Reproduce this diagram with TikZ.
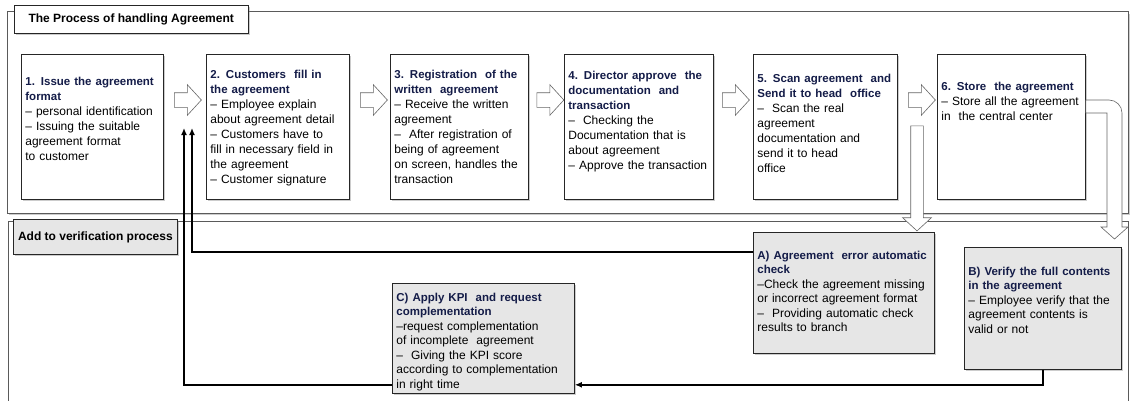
\documentclass[tikz,border=0pt]{standalone}
\usepackage{fontspec}
\setmainfont{Liberation Sans}
\usetikzlibrary{shapes.arrows,shadows,arrows.meta}
\definecolor{headblue}{RGB}{20,28,72}
\definecolor{boxgray}{RGB}{230,230,230}
\definecolor{framegray}{RGB}{90,90,90}
\newcommand{\hd}{\fontsize{11.5}{15}\bfseries\color{headblue}}

\tikzset{
  panel/.style={draw=framegray, fill=white, line width=1pt},
  stepbox/.style={draw=black!85, fill=white, anchor=north west, align=left,
    inner xsep=4pt, inner ysep=0pt, line width=0.8pt,
    font=\fontsize{12}{15}\selectfont,
    drop shadow={shadow xshift=2pt, shadow yshift=-2pt, opacity=0.4}},
  checkbox/.style={stepbox, fill=boxgray, font=\fontsize{12}{14.5}\selectfont},
  titlebox/.style={draw=black!85, fill=white, anchor=north west, inner sep=0pt,
    font=\fontsize{12}{14}\selectfont\bfseries,
    drop shadow={shadow xshift=2pt, shadow yshift=-2pt, opacity=0.4}},
  nextarr/.style={single arrow, draw=black!60, fill=white, line width=0.6pt,
    minimum height=27pt, single arrow head extend=8pt,
    single arrow tip angle=95, inner xsep=0pt, inner ysep=7pt},
  downarr/.style={nextarr, rotate=-90, minimum height=105pt, inner ysep=6pt},
  backline/.style={line width=1.6pt, -{Latex[length=7pt,width=6pt]}},
}

\begin{document}
\begin{tikzpicture}[x=1pt,y=1pt]
\useasboundingbox (0,0) rectangle (1132,400);

% the two frames
\draw[panel, drop shadow={shadow xshift=2pt, shadow yshift=-2pt, opacity=0.4}] (7,388) rectangle (1128,187);
\draw[panel] (8,179) rectangle (1128,-20);

\node[titlebox, minimum width=234pt, minimum height=28pt] (title) at (14,395) {The Process of handling Agreement};

% process steps
\node[stepbox, text width=134pt, text height=31pt, text depth=114pt] (b1) at (21,346) {%
{\hd 1. Issue the agreement\\format}\\
-- personal identification\\
-- Issuing the suitable\\
agreement format\\
to customer};
\node[stepbox, text width=135pt, text height=24pt, text depth=121pt] (b2) at (206,346) {%
{\hd 2. Customers\ \ fill in\\the agreement}\\
-- Employee explain\\
about agreement detail\\
-- Customers have to\\
fill in necessary field in\\
the agreement\\
-- Customer signature};
\node[stepbox, text width=130pt, text height=24pt, text depth=121pt] (b3) at (390,346) {%
{\hd 3. Registration\ \ of the\\written\ \ agreement}\\
-- Receive the written\\
agreement\\
--\ \ After registration of\\
being of agreement\\
on screen, handles the\\
transaction};
\node[stepbox, text width=141pt, text height=25pt, text depth=120pt] (b4) at (564,346) {%
{\hd 4. Director approve\ \ the\\documentation\ \ and\\transaction}\\
--\ \ Checking the\\
Documentation that is\\
about agreement\\
-- Approve the transaction};
\node[stepbox, text width=136pt, text height=28pt, text depth=117pt] (b5) at (753,346) {%
{\hd 5. Scan agreement\ \ and\\Send it to head\ \ office}\\
--\ \ Scan the real\\
agreement\\
documentation and\\
send it to head\\
office};
\node[stepbox, text width=140pt, text height=36pt, text depth=109pt] (b6) at (937,346) {%
{\hd 6. Store\ \ the agreement}\\
-- Store all the agreement\\
in\ \ the central center};

\node[nextarr] (n12) at (184.5,300) {};
\node[nextarr] (n23) at (370.5,300) {};
\node[nextarr] (n34) at (547,300) {};
\node[nextarr] (n45) at (732.5,300) {};
\node[nextarr] (n56) at (918.5,300) {};

\node[downarr] (dn) at (917,224.5) {};
\draw[draw=black!60, fill=white, line width=0.6pt] (b6.east |- 0,300) -- (1109,300)
  to[out=0,in=90] (1122,287) -- (1122,173) -- (1128,173) -- (1114.5,161)
  -- (1101,173) -- (1107,173) -- (1107,287) -- (b6.east |- 0,287) -- cycle;

% verification
\node[checkbox, font=\fontsize{12}{14}\selectfont\bfseries, minimum width=164pt,
  minimum height=35pt, inner sep=0pt] (addv) at (13,181) {Add to verification process};

\node[checkbox, text width=173pt, text height=27pt, text depth=94pt] (bA) at (753,168) {%
{\hd A) Agreement\ \ error automatic\\check}\\
--Check the agreement missing\\
or incorrect agreement format\\
--\ \ Providing automatic check\\
results to branch};
\node[checkbox, text width=149pt, text height=28pt, text depth=94pt] (bB) at (964,153) {%
{\hd B) Verify the full contents\\in the agreement}\\
-- Employee verify that the\\
agreement contents is\\
valid or not};
\node[checkbox, text width=174pt, text height=18pt, text depth=92pt] (bC) at (392,117) {%
{\hd C) Apply KPI\ \ and request\\complementation}\\
--request complementation\\
of incomplete\ \ agreement\\
--\ \ Giving the KPI score\\
according to complementation\\
in right time};

\coordinate (upA) at (192,272);
\coordinate (upC) at (184,272);
\draw[backline] ([yshift=-20pt]bA.north west) -| (upA);
\draw[backline] ([yshift=9pt]bC.south west) -| (upC);
\draw[backline] (bB.south) |- ([yshift=9pt]bC.south east);
\end{tikzpicture}
\end{document}
